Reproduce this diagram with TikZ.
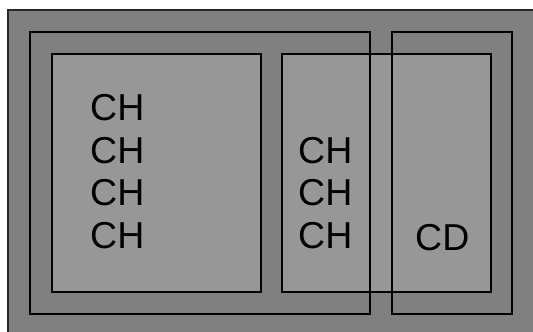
\documentclass[tikz,border=0pt]{standalone}
\usepackage{fontspec}
\setmainfont{Liberation Sans}
\definecolor{darkbg}{HTML}{808080}
\definecolor{lightbox}{HTML}{979797}
\begin{document}
\begin{tikzpicture}[x=1pt,y=-1pt,
  frame/.style={draw=black,line width=2pt},
  panel/.style={draw=black,line width=2pt,fill=lightbox},
  lbl/.style={anchor=base west,inner sep=0pt,font=\fontsize{37.5}{37.5}\selectfont}]
\useasboundingbox (0,0) rectangle (533,332);
\clip (0,0) rectangle (533,332);
\fill[white] (0,0) rectangle (533,332);
\draw[fill=darkbg,draw=black!85,line width=1.2pt] (8,10) rectangle (560,360);
\draw[panel] (52,54) rectangle (261,292);
\draw[panel] (282,54) rectangle (491,292);
\draw[frame] (30,32) rectangle (370,314);
\draw[frame] (392,32) rectangle (512,314);
\node[lbl] (a1) at (90,120.5) {CH};
\node[lbl] (a2) at (90,163) {CH};
\node[lbl] (a3) at (90,205.5) {CH};
\node[lbl] (a4) at (90,248) {CH};
\node[lbl] (b1) at (298,163) {CH};
\node[lbl] (b2) at (298,205.5) {CH};
\node[lbl] (b3) at (298,248) {CH};
\node[lbl] (c1) at (415,250) {CD};
\end{tikzpicture}
\end{document}
